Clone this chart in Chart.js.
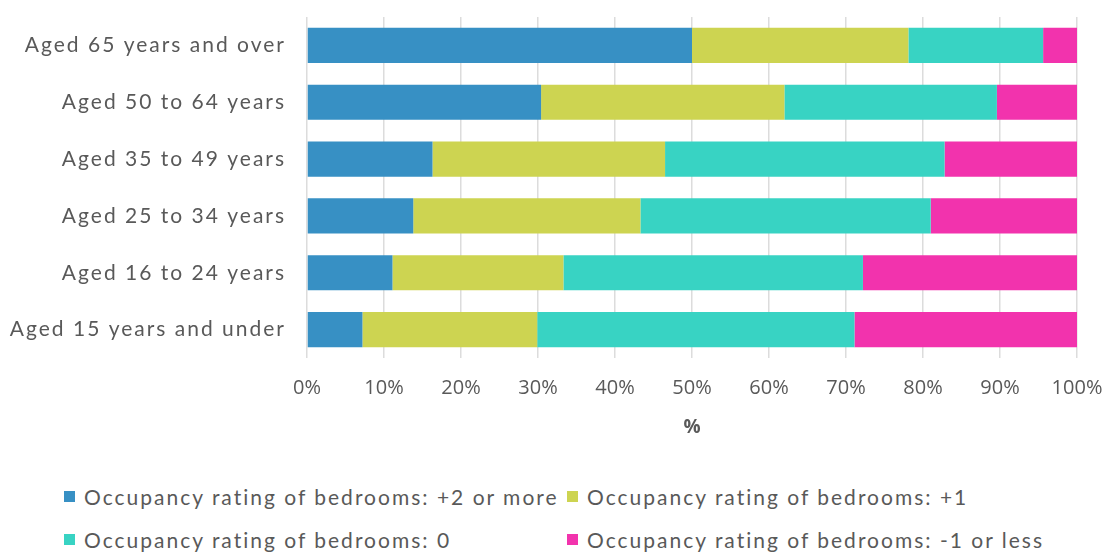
<!DOCTYPE html>
<html>
<head>
<meta charset="utf-8">
<script src="https://cdn.jsdelivr.net/npm/chart.js@4.4.1/dist/chart.umd.min.js"></script>
<style>
  html, body { margin: 0; padding: 0; background: #ffffff; }
  #wrap { position: relative; width: 1107px; height: 556px; overflow: hidden; }
  #chartBox { position: absolute; left: 0; top: 0; width: 1107px; height: 460px; }
  #legend { position: absolute; left: 64px; top: 475px; font-family: Lato, "Noto Sans", sans-serif;
            font-size: 21px; letter-spacing: 2px; color: #595959; }
  .row { display: flex; height: 43px; align-items: center; }
  .item { display: flex; align-items: center; white-space: nowrap; }
  .item.c1 { width: 503px; }
  .sw { width: 11px; height: 11px; margin-right: 9px; }
</style>
</head>
<body>
<div id="wrap">
  <div id="chartBox"><canvas id="chart"></canvas></div>
  <div id="legend"></div>
</div>
<script>
// Age groups, top to bottom
const categories = [
  "Aged 65 years and over",
  "Aged 50 to 64 years",
  "Aged 35 to 49 years",
  "Aged 25 to 34 years",
  "Aged 16 to 24 years",
  "Aged 15 years and under"
];

// Share of people (%) by occupancy rating of bedrooms
const seriesNames = [
  "Occupancy rating of bedrooms: +2 or more",
  "Occupancy rating of bedrooms: +1",
  "Occupancy rating of bedrooms: 0",
  "Occupancy rating of bedrooms: -1 or less"
];
const plusTwoOrMore  = [50.0, 30.4, 16.3, 13.8, 11.1, 7.2];
const plusOne        = [28.1, 31.6, 30.2, 29.5, 22.2, 22.7];
const zero           = [17.5, 27.6, 36.3, 37.7, 38.9, 41.2];
const minusOneOrLess = [4.4, 10.4, 17.2, 19.0, 27.8, 28.9];

const xTicks = [0, 10, 20, 30, 40, 50, 60, 70, 80, 90, 100];
const xTitle = "%";

const colors = ["#3790c4", "#cdd451", "#38d3c3", "#f233ad"];
const values = [plusTwoOrMore, plusOne, zero, minusOneOrLess];

const textColor = "#595959";

// Category labels are drawn with a little extra tracking
function spaceLabels(scale, spacing) {
  if (scale.$spaced) return;
  const draw = scale.drawLabels.bind(scale);
  scale.drawLabels = (area) => {
    const ctx = scale.ctx;
    ctx.save();
    ctx.letterSpacing = spacing;
    draw(area);
    ctx.restore();
  };
  scale.$spaced = true;
}

const chart = new Chart(document.getElementById("chart"), {
  type: "bar",
  data: {
    labels: categories,
    datasets: seriesNames.map((name, i) => ({
      label: name,
      data: values[i],
      backgroundColor: colors[i],
      borderWidth: 0,
      barPercentage: 0.62,
      categoryPercentage: 1.0
    }))
  },
  options: {
    indexAxis: "y",
    responsive: true,
    maintainAspectRatio: false,
    animation: false,
    layout: { padding: { top: 17, right: 30, left: 0, bottom: 0 } },
    plugins: {
      legend: { display: false },
      tooltip: { enabled: false }
    },
    scales: {
      x: {
        stacked: true,
        min: 0,
        max: 100,
        afterBuildTicks: (scale) => { scale.ticks = xTicks.map(v => ({ value: v })); },
        afterFit: (scale) => {
          scale.height = 102;
          scale.paddingLeft = 0;
          scale.paddingRight = 0;
        },
        grid: { color: "#dcdcdc", lineWidth: 1.5, drawTicks: false },
        border: { display: false },
        ticks: {
          padding: 18,
          color: textColor,
          font: { family: "'Open Sans', 'Noto Sans', sans-serif", size: 20 },
          callback: (v) => v + "%"
        },
        title: {
          display: true,
          text: xTitle,
          color: textColor,
          padding: { top: 0, bottom: 21 },
          font: { family: "'Open Sans', 'Noto Sans', sans-serif", size: 19, weight: "bold" }
        }
      },
      y: {
        stacked: true,
        afterFit: (scale) => {
          scale.width = 307;
          scale.paddingTop = 0;
          scale.paddingBottom = 0;
          spaceLabels(scale, "2px");
        },
        grid: { display: false, drawTicks: false },
        border: { display: false },
        ticks: {
          padding: 21,
          color: textColor,
          font: { family: "Lato, 'Noto Sans', sans-serif", size: 21 }
        }
      }
    }
  }
});
chart.draw();

// Legend laid out in two columns beneath the chart
const legend = document.getElementById("legend");
for (let r = 0; r < 2; r++) {
  const row = document.createElement("div");
  row.className = "row";
  for (let c = 0; c < 2; c++) {
    const i = r * 2 + c;
    const item = document.createElement("div");
    item.className = "item c" + (c + 1);
    const sw = document.createElement("span");
    sw.className = "sw";
    sw.style.background = colors[i];
    const label = document.createElement("span");
    label.textContent = seriesNames[i];
    item.appendChild(sw);
    item.appendChild(label);
    row.appendChild(item);
  }
  legend.appendChild(row);
}
</script>
</body>
</html>
